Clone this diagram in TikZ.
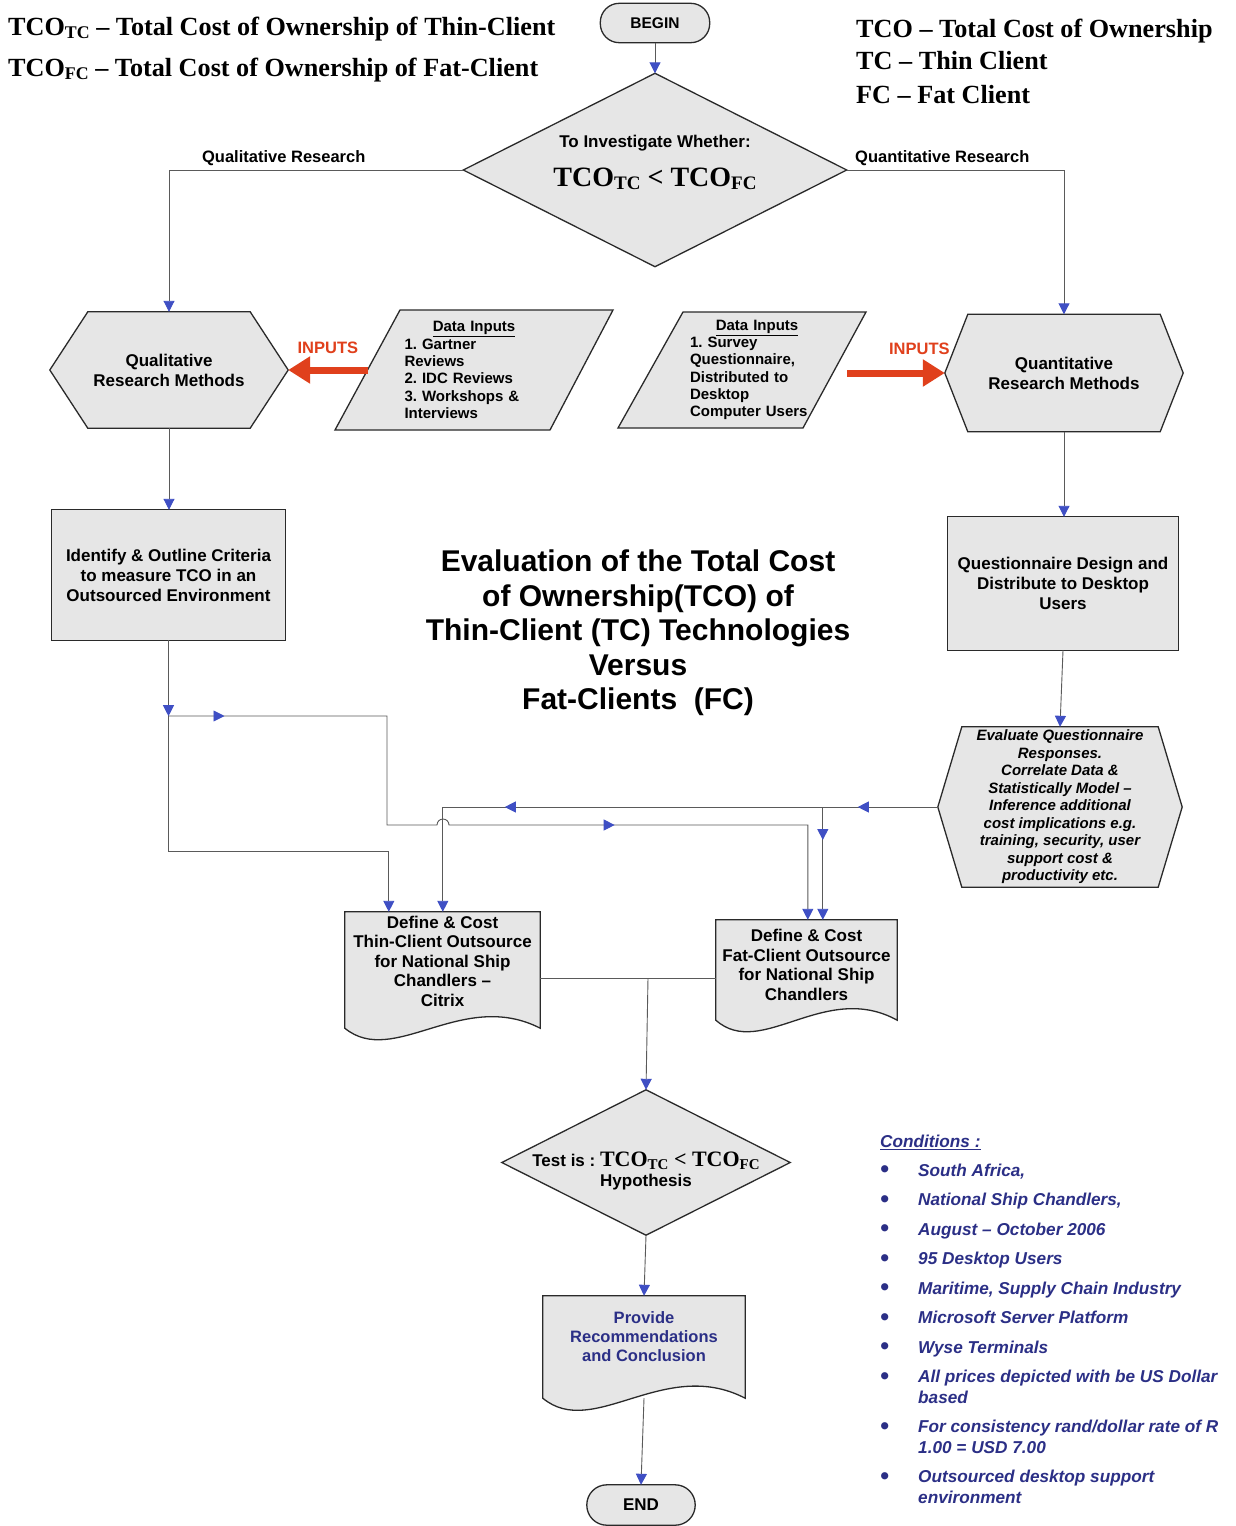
\documentclass[tikz,border=0pt]{standalone}
\usepackage{fontspec}
\setmainfont{Liberation Sans}
\newfontfamily\tnr{Liberation Serif}
\usetikzlibrary{arrows.meta,calc,decorations.markings}
\definecolor{shapefill}{HTML}{E6E6E6}
\definecolor{outl}{HTML}{2A2A2A}
\definecolor{connc}{HTML}{5A5A5A}
\definecolor{arrblue}{HTML}{3F4FC4}
\definecolor{inred}{HTML}{E0401C}
\definecolor{txtblue}{HTML}{2B2F86}
\pgfdeclarelayer{bg}
\pgfsetlayers{bg,main}
\frenchspacing
\newcommand\Sb[1]{\raisebox{-0.25ex}{\scalebox{0.68}{#1}}}
\newcommand\fsz[2]{\fontsize{#1}{#2}\selectfont}
\newcommand\cbul{\raisebox{-1.5pt}{\fsz{25}{20}\textbullet}}
\newcommand\hexo[2]{\path[shp] (#1.west) -- ([xshift=#2]#1.north west) -- ([xshift=-#2]#1.north east) -- (#1.east) -- ([xshift=-#2]#1.south east) -- ([xshift=#2]#1.south west) -- cycle;}
\newcommand\diao[1]{\path[shp] (#1.west) -- (#1.north) -- (#1.east) -- (#1.south) -- cycle;}
\newcommand\doco[3]{\path[shp] (#1.north west) -- (#1.north east) -- ([yshift=-#2]#1.south east) .. controls ($(#1.south east)!0.4!(#1.south west)+(0pt,#3-#2)$) and ($(#1.south east)!0.75!(#1.south west)+(0pt,-#3-#2)$) .. ([yshift=-#2]#1.south west) -- cycle;}
\tikzset{
 bt/.tip={Triangle[length=11pt,width=11pt,color=arrblue]},
 shp/.style={fill=shapefill, draw=outl, line width=1.3pt, line join=miter},
 box/.style={rectangle, draw=none, inner sep=0pt, align=center, font=\bfseries\fsz{17}{20}},
 cline/.style={draw=connc, line width=0.9pt},
 carrow/.style={cline, -{bt}},
 redarr/.style={draw=inred, line width=7pt, -{Triangle[length=22pt,width=26pt]}},
 inlab/.style={text=inred, font=\bfseries\fsz{16.5}{18}, inner sep=1pt},
 lab/.style={font=\bfseries\fsz{16.5}{18}, inner sep=2pt},
 legend/.style={anchor=base west, inner sep=0pt, font=\tnr\bfseries\fsz{26.2}{30}},
}
\begin{document}
\begin{tikzpicture}[x=1pt,y=-1pt]
\begin{pgfonlayer}{bg}
\fill[white] (0,0) rectangle (1235,1526);
\end{pgfonlayer}
\useasboundingbox (0,0) rectangle (1235,1526);

% legends
\node[legend] (lgA) at (8,35) {TCO\Sb{TC} – Total Cost of Ownership of Thin-Client};
\node[legend] (lgB) at (8,76) {TCO\Sb{FC} – Total Cost of Ownership of Fat-Client};
\node[legend] (lgC) at (856,37) {TCO – Total Cost of Ownership};
\node[legend] (lgD) at (856,69) {TC – Thin Client};
\node[legend] (lgE) at (856,103) {FC – Fat Client};

% nodes
\node[box, minimum width=109pt, minimum height=39pt, font=\bfseries\fsz{15.5}{18}] (begin) at (655,23) {BEGIN};
\node[box, minimum width=383pt, minimum height=193pt] (d1) at (655,170)
 {To Investigate Whether:\\[16pt]{\tnr\fsz{28}{30}TCO\Sb{TC} < TCO\Sb{FC}}\rule[-18pt]{0pt}{18pt}};
\node[box, minimum width=238pt, minimum height=116pt] (ql) at (169,370) {Qualitative\\Research Methods};
\node[box, minimum width=238pt, minimum height=117pt] (qn) at (1064,373) {Quantitative\\Research Methods};
\node[inner sep=0pt, text width=139pt, align=left, font=\bfseries\fsz{15}{17.3}] (lp) at (474,370)
 {\makebox[\hsize]{\underline{Data Inputs}}\\1. Gartner\\Reviews\\2. IDC Reviews\\3. Workshops \&\\Interviews};
\node[inner sep=0pt, text width=134pt, align=left, font=\bfseries\fsz{15}{17.3}] (rp) at (757,370)
 {\makebox[\hsize]{\underline{Data Inputs}}\\1. Survey\\Questionnaire,\\Distributed to\\Desktop\\Computer Users};
\node[box, minimum width=233pt, minimum height=130pt] (lb) at (168.5,575) {Identify \& Outline Criteria\\to measure TCO in an\\Outsourced Environment};
\node[box, minimum width=230pt, minimum height=133pt] (rb) at (1063,583.5) {Questionnaire Design and\\Distribute to Desktop\\Users};
\node[box, minimum width=244pt, minimum height=160pt, font=\bfseries\itshape\fsz{15}{17.5}] (ev) at (1060,807)
 {Evaluate Questionnaire\\Responses.\\Correlate Data \&\\Statistically Model –\\Inference additional\\cost implications e.g.\\training, security, user\\support cost \&\\productivity etc.};
\node[align=center, inner sep=0pt, font=\bfseries\fsz{30}{34.5}] (title) at (638,633)
 {Evaluation of the Total Cost\\of Ownership(TCO) of\\Thin-Client (TC) Technologies\\Versus\\Fat-Clients\ \ (FC)};
\node[box, minimum width=195pt, minimum height=98pt, font=\bfseries\fsz{17}{19.5}] (tc) at (442.5,961)
 {Define \& Cost\\Thin-Client Outsource\\for National Ship\\Chandlers –\\Citrix};
\node[box, minimum width=181pt, minimum height=90pt, font=\bfseries\fsz{17}{19.5}] (fc) at (806.5,965)
 {Define \& Cost\\Fat-Client Outsource\\for National Ship\\Chandlers};
\node[box, minimum width=288pt, minimum height=145pt] (d2) at (646,1162.5)
 {\rule{0pt}{32pt}Test is : {\tnr\fsz{22}{24}TCO\Sb{TC} < TCO\Sb{FC}}\\Hypothesis};
\node[box, minimum width=202pt, minimum height=82pt, text=txtblue, font=\bfseries\fsz{16.5}{19}] (rc) at (644,1337)
 {Provide\\Recommendations\\and Conclusion};
\node[box, minimum width=108pt, minimum height=40pt] (end) at (641,1505) {END};

% conditions
\node[anchor=north west, inner sep=0pt, text=txtblue, font=\bfseries\itshape\fsz{17.2}{20.5}] (cond) at (880,1133) {%
\begin{tabular}{@{}p{38pt}@{}l@{}}
\multicolumn{2}{@{}l@{}}{\underline{Conditions :}}\\[8pt]
\cbul & South Africa,\\[9pt]
\cbul & National Ship Chandlers,\\[9pt]
\cbul & August – October 2006\\[9pt]
\cbul & 95 Desktop Users\\[9pt]
\cbul & Maritime, Supply Chain Industry\\[9pt]
\cbul & Microsoft Server Platform\\[9pt]
\cbul & Wyse Terminals\\[9pt]
\cbul & All prices depicted with be US Dollar\\
 & based\\[9pt]
\cbul & For consistency rand/dollar rate of R\\
 & 1.00 = USD 7.00\\[9pt]
\cbul & Outsourced desktop support\\
 & environment
\end{tabular}};

% outlines
\begin{pgfonlayer}{bg}
\path[shp, rounded corners=19pt] (begin.north west) rectangle (begin.south east);
\path[shp, rounded corners=20pt] (end.north west) rectangle (end.south east);
\diao{d1}
\diao{d2}
\hexo{ql}{38pt}
\hexo{qn}{23pt}
\hexo{ev}{24pt}
\path[shp] (lb.north west) rectangle (lb.south east);
\path[shp] (rb.north west) rectangle (rb.south east);
\path[shp] ($(lp)+(-74,-60)$) -- ($(lp)+(139,-60)$) -- ($(lp)+(76,60)$) -- ($(lp)+(-139,60)$) -- cycle;
\path[shp] ($(rp)+(-74,-58)$) -- ($(rp)+(109,-58)$) -- ($(rp)+(46,58)$) -- ($(rp)+(-139,58)$) -- cycle;
\doco{tc}{18pt}{40pt}
\doco{fc}{10pt}{40pt}
\doco{rc}{20pt}{42pt}
\end{pgfonlayer}

% coordinates
\coordinate (tcA) at ($(tc.north west)+(44,0)$);
\coordinate (tcB) at ($(tc.north west)+(98,0)$);
\coordinate (fcA) at ($(fc.north west)+(92,0)$);
\coordinate (fcB) at ($(fc.north west)+(107,0)$);
\coordinate (J) at (168.5,716);
\coordinate (b1) at (387,716);
\coordinate (b2) at (387,825);
\coordinate (h1) at (437,825);
\coordinate (jD) at (fcB |- ev.west);
\coordinate (M) at (648,978);

% connectors
\draw[carrow] (begin.south) -- (d1.north);
\draw[carrow] (d1.west) -- node[lab, above=2pt, pos=0.61] (qlab) {Qualitative Research} (ql.north |- d1.west) -- (ql.north);
\draw[carrow] (d1.east) -- node[lab, above=2pt, pos=0.44] (qnlab) {Quantitative Research} (qn.north |- d1.east) -- (qn.north);
\draw[redarr] ($(lp)+(-106.5,0)$) -- node[inlab, above=12pt] (in1) {INPUTS} (ql.east);
\draw[redarr] ($(rp)+(90,3)$) -- node[inlab, above=14pt, pos=0.74] (in2) {INPUTS} (qn.west);
\draw[carrow] (ql.south) -- (ql.south |- lb.north);
\draw[carrow] (qn.south) -- (qn.south |- rb.north);
\draw[carrow] (rb.south) -- (ev.north);
% left network
\draw[carrow, postaction={decorate}, decoration={markings, mark=at position 76pt with {\arrow{bt}}}]
 (lb.south) |- ($(tcA)+(0,-60)$) -- (tcA);
\draw[carrow, postaction={decorate}, decoration={markings, mark=at position 56pt with {\arrow{bt}}, mark=at position 562pt with {\arrow{bt}}}]
 (J) -- (b1) -- (b2) -- (h1) arc[start angle=180, end angle=0, radius=6pt] -- (fcA |- b2) -- (fcA);
\draw[carrow, postaction={decorate}, decoration={markings, mark=at position 80pt with {\arrow{bt}}, mark=at position 433pt with {\arrow{bt}}}]
 (ev.west) -- (tcB |- ev.west) -- (tcB);
\draw[carrow, postaction={decorate}, decoration={markings, mark=at position 33pt with {\arrow{bt}}}]
 (jD) -- (fcB);
% lower
\draw[cline] (tc.east |- M) -- (fc.west |- M);
\draw[carrow] (M) -- (d2.north);
\draw[carrow] (d2.south) -- (rc.north);
\draw[carrow] ([yshift=-20pt]rc.south) -- (end.north);
\end{tikzpicture}
\end{document}
